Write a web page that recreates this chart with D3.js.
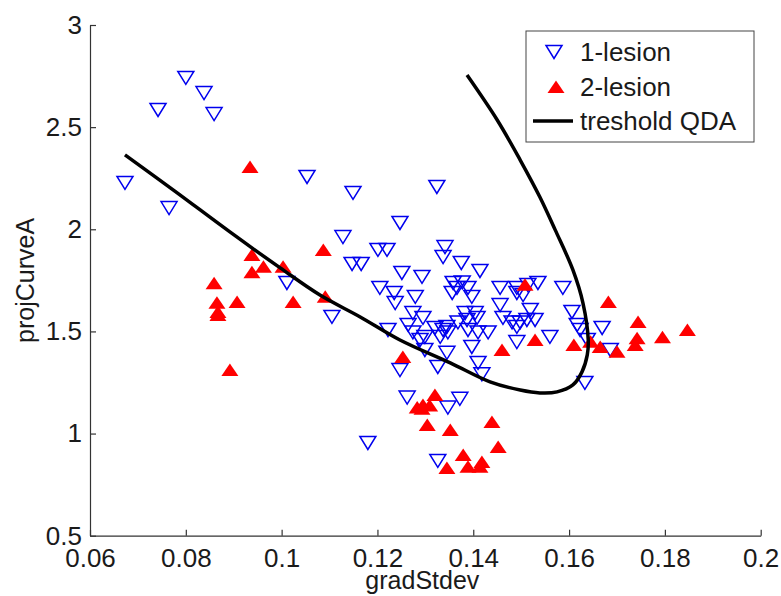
<!DOCTYPE html>
<html>
<head>
<meta charset="utf-8">
<script src="https://cdn.jsdelivr.net/npm/d3@7"></script>
<style>
  body { margin: 0; background: #fff; }
  svg { display: block; font-family: Arial, "Liberation Sans", sans-serif; }
</style>
</head>
<body>
<div id="chart"></div>
<script>
// 1-lesion cases [gradStdev, projCurveA]
const lesion1 = [
  [0.0673, 2.227], [0.0742, 2.584], [0.0765, 2.104], [0.0800, 2.741], [0.0838, 2.667], [0.0859, 2.564],
  [0.1011, 1.737], [0.1053, 2.256], [0.1105, 1.571], [0.1128, 1.962], [0.1147, 1.830], [0.1166, 1.830],
  [0.1149, 2.178], [0.1324, 2.207], [0.1247, 2.031],
  [0.1201, 1.899], [0.1220, 1.899], [0.1341, 1.913], [0.1337, 1.864], [0.1375, 1.835], [0.1414, 1.796],
  [0.1251, 1.786], [0.1293, 1.767], [0.1205, 1.713], [0.1235, 1.688], [0.1237, 1.639], [0.1279, 1.669],
  [0.1358, 1.737], [0.1366, 1.713], [0.1377, 1.740], [0.1389, 1.713], [0.1356, 1.688], [0.1397, 1.669],
  [0.1456, 1.713], [0.1491, 1.713], [0.1514, 1.727], [0.1535, 1.737], [0.1587, 1.713],
  [0.1491, 1.688], [0.1504, 1.678], [0.1456, 1.629], [0.1519, 1.605],
  [0.1274, 1.590], [0.1295, 1.566], [0.1383, 1.590], [0.1404, 1.590], [0.1387, 1.556], [0.1408, 1.566],
  [0.1222, 1.507], [0.1264, 1.532], [0.1274, 1.495], [0.1299, 1.473], [0.1320, 1.517], [0.1337, 1.507],
  [0.1347, 1.495], [0.1368, 1.544], [0.1389, 1.507], [0.1410, 1.495], [0.1345, 1.522], [0.1431, 1.495],
  [0.1289, 1.458], [0.1331, 1.473], [0.1345, 1.395], [0.1299, 1.409],
  [0.1462, 1.566], [0.1481, 1.544], [0.1498, 1.544], [0.1512, 1.556], [0.1529, 1.556], [0.1491, 1.522],
  [0.1560, 1.473], [0.1491, 1.448], [0.1397, 1.424],
  [0.1606, 1.595], [0.1617, 1.532], [0.1623, 1.507], [0.1669, 1.517], [0.1638, 1.458], [0.1686, 1.409],
  [0.1633, 1.248],
  [0.1410, 1.346], [0.1418, 1.290], [0.1326, 1.326], [0.1247, 1.311], [0.1262, 1.176], [0.1347, 1.127],
  [0.1372, 1.170], [0.1180, 0.954], [0.1326, 0.866]
];

// 2-lesion cases [gradStdev, projCurveA]
const lesion2 = [
  [0.0934, 2.305], [0.1087, 1.899], [0.0938, 1.874], [0.0962, 1.816], [0.0938, 1.790], [0.1003, 1.816],
  [0.0907, 1.644], [0.1024, 1.644], [0.1091, 1.670], [0.0859, 1.736], [0.0865, 1.640], [0.0867, 1.595],
  [0.0867, 1.580], [0.0892, 1.311],
  [0.1253, 1.375], [0.1320, 1.189], [0.1295, 1.140], [0.1283, 1.127], [0.1293, 1.122], [0.1309, 1.137],
  [0.1304, 1.042], [0.1352, 1.018], [0.1439, 1.057], [0.1452, 0.934], [0.1379, 0.895], [0.1345, 0.832],
  [0.1389, 0.837], [0.1418, 0.861], [0.1414, 0.837],
  [0.1508, 1.728], [0.1682, 1.644], [0.1744, 1.546], [0.1847, 1.507], [0.1795, 1.472], [0.1742, 1.467],
  [0.1738, 1.433], [0.1529, 1.458], [0.1610, 1.433], [0.1645, 1.450], [0.1665, 1.424], [0.1700, 1.400],
  [0.1460, 1.409]
];

// QDA decision boundary
const thresholdQDA = [
  [0.0673, 2.364], [0.0777, 2.187], [0.0892, 1.987], [0.0997, 1.811], [0.1080, 1.678], [0.1164, 1.571],
  [0.1247, 1.458], [0.1352, 1.346], [0.1435, 1.253], [0.1498, 1.213], [0.1539, 1.199], [0.1575, 1.204],
  [0.1608, 1.238], [0.1627, 1.302], [0.1638, 1.385], [0.1640, 1.458], [0.1629, 1.639], [0.1608, 1.801],
  [0.1571, 1.997], [0.1539, 2.158], [0.1498, 2.339], [0.1450, 2.535], [0.1387, 2.755]
];

const xTicks = [0.06, 0.08, 0.1, 0.12, 0.14, 0.16, 0.18, 0.2];
const xTickLabels = ["0.06", "0.08", "0.1", "0.12", "0.14", "0.16", "0.18", "0.2"];
const yTicks = [0.5, 1, 1.5, 2, 2.5, 3];
const yTickLabels = ["0.5", "1", "1.5", "2", "2.5", "3"];
const legendNames = ["1-lesion", "2-lesion", "treshold QDA"];

const width = 781, height = 596;
const margin = { top: 25, right: 20.3, bottom: 60.3, left: 90 };

const svg = d3.select("#chart").append("svg")
  .attr("width", width)
  .attr("height", height);

const x = d3.scaleLinear().domain([0.06, 0.2]).range([margin.left, width - margin.right]);
const y = d3.scaleLinear().domain([0.5, 3]).range([height - margin.bottom, margin.top]);

// axes, ticks pointing inward like matlab
const xAxis = svg.append("g")
  .attr("transform", `translate(0,${height - margin.bottom})`)
  .call(d3.axisBottom(x).tickValues(xTicks).tickFormat((d, i) => xTickLabels[i])
    .tickSizeInner(-6).tickSizeOuter(0).tickPadding(13));

const yAxis = svg.append("g")
  .attr("transform", `translate(${margin.left},0)`)
  .call(d3.axisLeft(y).tickValues(yTicks).tickFormat((d, i) => yTickLabels[i])
    .tickSizeInner(-6).tickSizeOuter(0).tickPadding(8));

[xAxis, yAxis].forEach(g => {
  g.select(".domain").attr("stroke", "#333").attr("stroke-width", 1.2);
  g.selectAll(".tick line").attr("stroke", "#333").attr("stroke-width", 1.2);
  g.selectAll(".tick text").attr("fill", "#1a1a1a").style("font-size", "26px");
});

// axis titles
svg.append("text")
  .attr("x", (margin.left + width - margin.right) / 2 - 3)
  .attr("y", 589)
  .attr("text-anchor", "middle")
  .attr("fill", "#1a1a1a")
  .style("font-size", "25px")
  .text("gradStdev");

svg.append("text")
  .attr("transform", `translate(34,${(margin.top + height - margin.bottom) / 2}) rotate(-90)`)
  .attr("text-anchor", "middle")
  .attr("fill", "#1a1a1a")
  .style("font-size", "25px")
  .text("projCurveA");

const triDown = "M-8,-6.5L8,-6.5L0,6.5Z";
const triUp = "M-8.5,6L8.5,6L0,-6.5Z";

svg.append("g")
  .selectAll("path")
  .data(lesion1)
  .join("path")
  .attr("d", triDown)
  .attr("transform", d => `translate(${x(d[0])},${y(d[1])})`)
  .attr("fill", "none")
  .attr("stroke", "#0000ee")
  .attr("stroke-width", 1.5);

svg.append("g")
  .selectAll("path")
  .data(lesion2)
  .join("path")
  .attr("d", triUp)
  .attr("transform", d => `translate(${x(d[0])},${y(d[1])})`)
  .attr("fill", "#ff0000");

const line = d3.line()
  .x(d => x(d[0]))
  .y(d => y(d[1]))
  .curve(d3.curveCatmullRom.alpha(0.5));

svg.append("path")
  .datum(thresholdQDA)
  .attr("d", line)
  .attr("fill", "none")
  .attr("stroke", "#000")
  .attr("stroke-width", 3.5);

// legend
const lg = svg.append("g");
lg.append("rect")
  .attr("x", 526).attr("y", 31)
  .attr("width", 228).attr("height", 111)
  .attr("fill", "#fff")
  .attr("stroke", "#444")
  .attr("stroke-width", 1);

const rows = [52, 87, 121];
lg.append("path").attr("d", triDown).attr("transform", `translate(554,${rows[0]})`)
  .attr("fill", "none").attr("stroke", "#0000ee").attr("stroke-width", 1.5);
lg.append("path").attr("d", triUp).attr("transform", `translate(556,${rows[1]})`)
  .attr("fill", "#ff0000");
lg.append("line").attr("x1", 533).attr("x2", 573).attr("y1", rows[2]).attr("y2", rows[2])
  .attr("stroke", "#000").attr("stroke-width", 3.5);

lg.selectAll("text")
  .data(legendNames)
  .join("text")
  .attr("x", 580)
  .attr("y", (d, i) => rows[i])
  .attr("dy", "0.36em")
  .attr("fill", "#1a1a1a")
  .style("font-size", "26px")
  .text(d => d);
</script>
</body>
</html>
